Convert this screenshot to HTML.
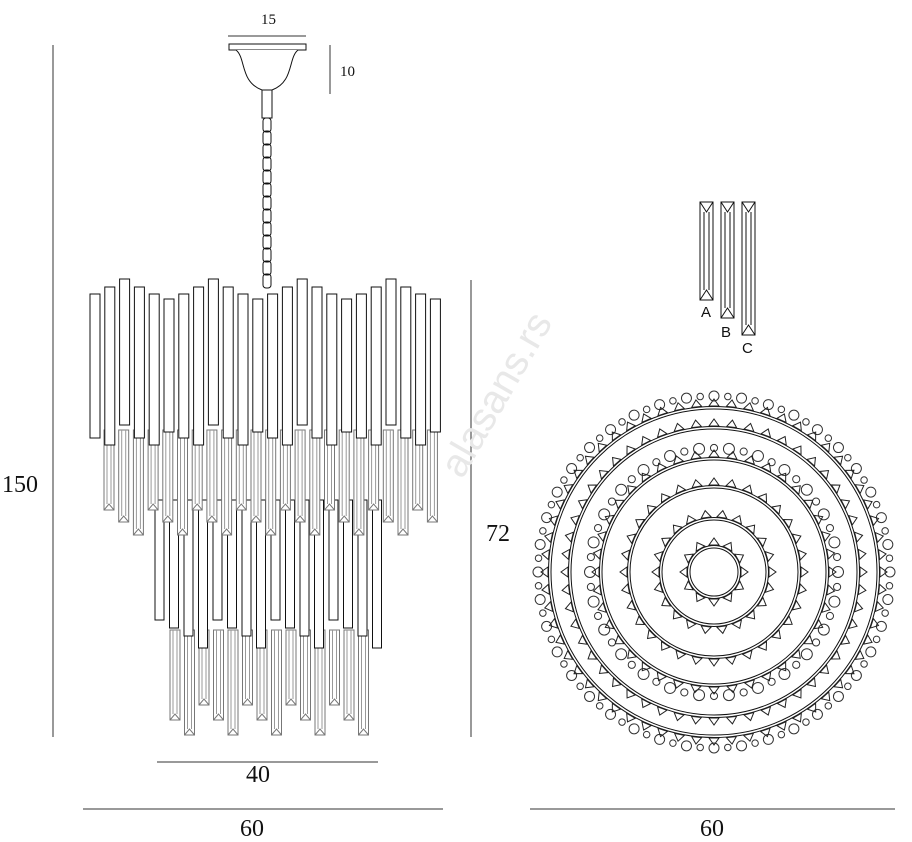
<!DOCTYPE html>
<html><head><meta charset="utf-8"><style>
html,body{margin:0;padding:0;background:#fff;width:912px;height:842px;overflow:hidden}
svg{position:absolute;left:0;top:0}
text{font-family:"Liberation Serif",serif;fill:#111}
</style></head><body>
<svg id="s" width="912" height="842" viewBox="0 0 912 842" xmlns="http://www.w3.org/2000/svg">
<g id="draw" fill="none" stroke="#111" stroke-width="1"></g>
<!-- dimension lines -->
<g stroke="#333" stroke-width="1">
<line x1="53" y1="45" x2="53" y2="737"/>
<line x1="471" y1="280" x2="471" y2="737"/>
<line x1="157" y1="762" x2="378" y2="762"/>
<line x1="83" y1="809" x2="443" y2="809"/>
<line x1="530" y1="809" x2="895" y2="809"/>
<line x1="228" y1="36" x2="306" y2="36"/>
<line x1="330" y1="45" x2="330" y2="94"/>
</g>
<text x="2" y="492" font-size="24">150</text>
<text x="486" y="541" font-size="24">72</text>
<text x="246" y="782" font-size="24">40</text>
<text x="240" y="836" font-size="24">60</text>
<text x="700" y="836" font-size="24">60</text>
<text x="261" y="24" font-size="15">15</text>
<text x="340" y="76" font-size="15">10</text>
<text x="462" y="480" font-size="40" transform="rotate(-60 462 480)" style="font-family:'Liberation Sans',sans-serif;fill:#e8e8e8">alasans.rs</text>
<g font-family="Liberation Sans,sans-serif" font-size="15">
<text x="701" y="317" style="font-family:'Liberation Sans',sans-serif">A</text>
<text x="721" y="337" style="font-family:'Liberation Sans',sans-serif">B</text>
<text x="742" y="353" style="font-family:'Liberation Sans',sans-serif">C</text>
</g>
</svg>
<script>
var g=document.getElementById('draw'),NS='http://www.w3.org/2000/svg';
function el(t,a,p){var e=document.createElementNS(NS,t);for(var k in a)e.setAttribute(k,a[k]);(p||g).appendChild(e);return e;}
function rect(x,y,w,h,c,f){el('rect',{x:x,y:y,width:w,height:h,stroke:c||'#111',fill:f||'#fff'});}
function crystal(x,y1,y2,c){rect(x,y1,10,y2-y1,c||'#777');el('line',{x1:x+3,y1:y1,x2:x+3,y2:y2-6,stroke:'#999'});el('line',{x1:x+7,y1:y1,x2:x+7,y2:y2-6,stroke:'#999'});el('path',{d:'M'+x+' '+y2+'L'+(x+5)+' '+(y2-6)+'L'+(x+10)+' '+y2,stroke:'#777'});}
// canopy
rect(229,44,77,6);
el('path',{d:'M236 50 C246 58,240 82,262 90 L272 90 C294 82,288 58,298 50',fill:'#fff'});
rect(262,90,10,28);
for(var y=118;y<282;y+=13){el('rect',{x:263,y:y,width:8,height:14,rx:3,fill:'none'});}
// lower tier crystals (draw first, behind)
var t=[705,720,735];
for(var i=0;i<14;i++){var x=170+i*14.5;crystal(x,630,t[(i+1)%3]);}
// second tier black rects
var tb=[620,628,636,648];
for(var i=0;i<16;i++){var x=155+i*14.5;rect(x,500,9,tb[i%4]-500);}
// upper crystals
var t2=[510,522,535];
for(var i=0;i<23;i++){var x=104+i*14.7;crystal(x,430,t2[i%3]);}
// top tier
var tops=[294,287,279,287,294,299],bots=[438,445,425,438,445,432];
for(var i=0;i<24;i++){var x=90+i*14.8;rect(x,tops[i%6],10,bots[i%6]-tops[i%6]);}
// ABC crystals
[[700,300],[721,318],[742,335]].forEach(function(c){var x=c[0];rect(x,202,13,c[1]-202);el('line',{x1:x+4,y1:212,x2:x+4,y2:c[1]-10});el('line',{x1:x+9,y1:212,x2:x+9,y2:c[1]-10});el('path',{d:'M'+x+' 202L'+(x+6.5)+' 212L'+(x+13)+' 202'});el('path',{d:'M'+x+' '+c[1]+'L'+(x+6.5)+' '+(c[1]-10)+'L'+(x+13)+' '+c[1]});});
// circle plan
var cx=714,cy=572;
function ring(r){el('circle',{cx:cx,cy:cy,r:r,stroke:'#111'});el('circle',{cx:cx,cy:cy,r:r+2.5,stroke:'#111'});}
function beads(r,n,sz){for(var i=0;i<n;i++){var a=i/n*Math.PI*2;var s=sz*(i%2?0.65:1);el('circle',{cx:cx+r*Math.cos(a),cy:cy+r*Math.sin(a),r:s,stroke:'#333',fill:'#fff'});}}
function tris(r,n){for(var i=0;i<n;i++){var a=i/n*Math.PI*2;var px=cx+r*Math.cos(a),py=cy+r*Math.sin(a);var ux=Math.cos(a),uy=Math.sin(a);var d='M'+(px-uy*5)+' '+(py+ux*5)+'L'+(px+ux*7)+' '+(py+uy*7)+'L'+(px+uy*5)+' '+(py-ux*5)+'Z';el('path',{d:d,stroke:'#222'});}}
beads(176,80,5);
ring(163);tris(166,60);
ring(143);tris(146,52);
beads(124,52,5.5);
ring(112);tris(115,40);
ring(84);tris(87,32);
ring(52);tris(55,22);
ring(24);tris(27,12);
</script>
</body></html>
